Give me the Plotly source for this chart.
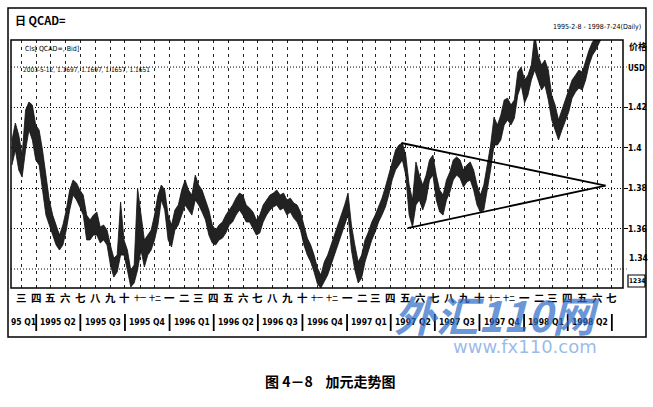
import plotly.graph_objects as go
import pandas as pd

# ---------------- data (weekly high / low of USD/CAD) ----------------
start_week = "1995-02-10"
highs = [1.4039, 1.4123, 1.4063, 1.3964, 1.4187, 1.4227, 1.4212, 1.4113, 1.4088, 1.3989,
         1.3865, 1.3742, 1.3667, 1.3618, 1.3568, 1.3618, 1.3692, 1.3791, 1.3841, 1.3826,
         1.3791, 1.3766, 1.3667, 1.3643, 1.3667, 1.3682, 1.3608, 1.3618, 1.3593, 1.3519,
         1.3454, 1.3469, 1.3732, 1.3544, 1.3494, 1.3395, 1.3420, 1.3801, 1.3667, 1.3544,
         1.3568, 1.3593, 1.3667, 1.3766, 1.3816, 1.3791, 1.3667, 1.3618, 1.3692, 1.3717,
         1.3791, 1.3841, 1.3791, 1.3766, 1.3865, 1.3816, 1.3791, 1.3742, 1.3692, 1.3618,
         1.3593, 1.3618, 1.3633, 1.3667, 1.3692, 1.3717, 1.3751, 1.3776, 1.3766, 1.3717,
         1.3702, 1.3682, 1.3643, 1.3667, 1.3717, 1.3742, 1.3766, 1.3776, 1.3791, 1.3766,
         1.3776, 1.3742, 1.3751, 1.3727, 1.3717, 1.3682, 1.3618, 1.3553, 1.3519, 1.3469,
         1.3405, 1.3370, 1.3435, 1.3469, 1.3519, 1.3568, 1.3618, 1.3667, 1.3717, 1.3776,
         1.3618, 1.3519, 1.3435, 1.3469, 1.3544, 1.3583, 1.3633, 1.3667, 1.3707, 1.3751,
         1.3806, 1.3865, 1.3925, 1.3989, 1.4014, 1.4024, 1.3964, 1.3816, 1.3742, 1.3930,
         1.3865, 1.3816, 1.3865, 1.3940, 1.3964, 1.3865, 1.3791, 1.3766, 1.3841, 1.3880,
         1.3940, 1.3955, 1.3940, 1.3890, 1.3915, 1.3930, 1.3890, 1.3816, 1.3766, 1.3816,
         1.3915, 1.4014, 1.4152, 1.4113, 1.4162, 1.4237, 1.4246, 1.4212, 1.4237, 1.4375,
         1.4400, 1.4336, 1.4360, 1.4410, 1.4560, 1.4459, 1.4410, 1.4435, 1.4385, 1.4261,
         1.4212, 1.4138, 1.4187, 1.4237, 1.4286, 1.4336, 1.4360, 1.4385, 1.4375, 1.4435,
         1.4484, 1.4524, 1.4543, 1.4580, 1.4620, 1.4680, 1.4720, 1.4780, 1.4850, 1.4920,
         1.4980]
lows = [1.3915, 1.3989, 1.3890, 1.3855, 1.3989, 1.4088, 1.4039, 1.3940, 1.3915, 1.3791,
        1.3667, 1.3618, 1.3568, 1.3519, 1.3494, 1.3519, 1.3593, 1.3692, 1.3766, 1.3742,
        1.3707, 1.3667, 1.3544, 1.3544, 1.3568, 1.3568, 1.3529, 1.3544, 1.3519, 1.3420,
        1.3360, 1.3385, 1.3469, 1.3469, 1.3395, 1.3311, 1.3331, 1.3395, 1.3494, 1.3410,
        1.3469, 1.3494, 1.3544, 1.3618, 1.3742, 1.3692, 1.3544, 1.3509, 1.3593, 1.3618,
        1.3667, 1.3717, 1.3692, 1.3667, 1.3742, 1.3717, 1.3682, 1.3643, 1.3568, 1.3529,
        1.3519, 1.3544, 1.3553, 1.3578, 1.3618, 1.3633, 1.3667, 1.3692, 1.3667, 1.3633,
        1.3633, 1.3603, 1.3568, 1.3578, 1.3633, 1.3667, 1.3692, 1.3707, 1.3717, 1.3692,
        1.3702, 1.3667, 1.3682, 1.3652, 1.3633, 1.3593, 1.3519, 1.3469, 1.3435, 1.3385,
        1.3326, 1.3306, 1.3336, 1.3370, 1.3420, 1.3469, 1.3519, 1.3558, 1.3618, 1.3667,
        1.3494, 1.3395, 1.3331, 1.3355, 1.3435, 1.3494, 1.3544, 1.3583, 1.3633, 1.3667,
        1.3707, 1.3766, 1.3841, 1.3890, 1.3915, 1.3940, 1.3865, 1.3667, 1.3608, 1.3717,
        1.3742, 1.3692, 1.3742, 1.3841, 1.3865, 1.3742, 1.3682, 1.3667, 1.3742, 1.3781,
        1.3841, 1.3865, 1.3850, 1.3806, 1.3831, 1.3841, 1.3791, 1.3717, 1.3682, 1.3692,
        1.3791, 1.3890, 1.4014, 1.4014, 1.4039, 1.4113, 1.4138, 1.4113, 1.4147, 1.4261,
        1.4311, 1.4222, 1.4261, 1.4336, 1.4385, 1.4336, 1.4286, 1.4311, 1.4237, 1.4138,
        1.4088, 1.4039, 1.4088, 1.4128, 1.4177, 1.4246, 1.4276, 1.4296, 1.4286, 1.4336,
        1.4410, 1.4459, 1.4484, 1.4520, 1.4550, 1.4590, 1.4630, 1.4680, 1.4740, 1.4800,
        1.4860]

# triangle trend lines (date, price)
upper_line = [("1997-04-23", 1.4024), ("1998-06-18", 1.3813)]
lower_line = [("1997-05-06", 1.3603), ("1998-06-18", 1.3813)]

# axis labels
month_names = ["一", "二", "三", "四", "五", "六", "七", "八", "九", "十", "十一", "十二"]
price_ticks = [1.36, 1.38, 1.40, 1.42]
price_tick_text = ["1.36", "1.38", "1.4", "1.42"]
quarter_labels = ["95 Q1", "1995 Q2", "1995 Q3", "1995 Q4", "1996 Q1", "1996 Q2", "1996 Q3",
                  "1996 Q4", "1997 Q1", "1997 Q2", "1997 Q3", "1997 Q4", "1998 Q1", "1998 Q2"]

x_start, x_end = "1995-02-08", "1998-07-24"
y_min, y_max = 1.3306, 1.4534

# ---------------- figure ----------------
W, H = 653, 407
L, R, T, B = 11, 623, 40, 288     # plot area in pixels


def px(xp):
    return (xp - L) / (R - L)


def py(yp):
    return (B - yp) / (B - T)


dates = pd.date_range(start_week, periods=len(highs), freq="7D")

fig = go.Figure()
fig.add_trace(go.Scatter(x=dates, y=lows, mode="lines", line=dict(color="#111111", width=0.8),
                         hoverinfo="skip", showlegend=False))
fig.add_trace(go.Scatter(x=dates, y=highs, mode="lines", line=dict(color="#111111", width=0.8),
                         fill="tonexty", fillcolor="#222222", hoverinfo="skip", showlegend=False))

# trend lines
for seg in (upper_line, lower_line):
    fig.add_trace(go.Scatter(x=[p[0] for p in seg], y=[p[1] for p in seg], mode="lines",
                             line=dict(color="black", width=1.8), hoverinfo="skip", showlegend=False))

sans_n = "DejaVu Sans Condensed, Liberation Sans Narrow, Arial Narrow, sans-serif"
cjk = "Noto Sans CJK SC, Noto Sans CJK JP, sans-serif"

annotations = []
shapes = []

# month labels (Chinese numerals) centred on the month-start grid lines
months = pd.date_range("1995-03-01", x_end, freq="MS")
for m in months:
    name = month_names[m.month - 1]
    annotations.append(dict(x=m, xref="x", y=py(297), yref="paper", text=name, showarrow=False,
                            font=dict(family=cjk, size=10.5 if len(name) == 1 else 6, color="black",
                                      weight="bold"),
                            borderpad=0, xanchor="center", yanchor="middle"))

# quarter labels and separators
q_starts = pd.date_range("1995-01-01", "1998-07-01", freq="QS")
for i, qs in enumerate(q_starts[:-1]):
    qe = q_starts[i + 1]
    a = max(qs, pd.Timestamp(x_start))
    mid = a + (qe - a) / 2
    annotations.append(dict(x=mid, xref="x", y=py(322), yref="paper", text=quarter_labels[i],
                            showarrow=False, font=dict(family=sans_n, size=8.5, color="black", weight="bold"),
                            borderpad=0, xanchor="center", yanchor="middle"))
for qs in q_starts[1:]:
    shapes.append(dict(type="line", xref="x", yref="paper", x0=qs, x1=qs, y0=py(314), y1=py(331),
                       line=dict(color="black", width=1.8)))

# right price labels
for v, t in zip(price_ticks, price_tick_text):
    annotations.append(dict(x=px(627), y=v, xref="paper", yref="y", text=t, showarrow=False,
                            xanchor="left", yanchor="middle", borderpad=0,
                            font=dict(family=sans_n, size=8.5, color="black", weight="bold")))

# header texts
annotations += [
    dict(x=px(13), y=py(20), xref="paper", yref="paper", text="日 QCAD=", showarrow=False,
         xanchor="left", yanchor="middle", font=dict(family=cjk, size=11, color="black", weight="bold")),
    dict(x=px(643), y=py(27), xref="paper", yref="paper", text="1995-2-8 - 1998-7-24(Daily)",
         showarrow=False, xanchor="right", yanchor="middle",
         font=dict(family=sans_n, size=7, color="black")),
    dict(x=px(23), y=py(49), xref="paper", yref="paper", text="Cls[ QCAD=, Bid]", showarrow=False,
         xanchor="left", yanchor="middle", font=dict(family=sans_n, size=7, color="black")),
    dict(x=px(21), y=py(70), xref="paper", yref="paper",
         text="2003-5-12, 1.1697, 1.1697, 1.1657, 1.1651", showarrow=False,
         xanchor="left", yanchor="middle", font=dict(family=sans_n, size=6.5, color="black")),
    dict(x=px(627), y=py(47), xref="paper", yref="paper", text="价格", showarrow=False,
         xanchor="left", yanchor="middle", font=dict(family=cjk, size=9, color="black", weight="bold")),
    dict(x=px(626), y=py(68), xref="paper", yref="paper", text="USD", showarrow=False,
         xanchor="left", yanchor="middle", font=dict(family=sans_n, size=8, color="black", weight="bold")),
    dict(x=px(627), y=py(258), xref="paper", yref="paper", text="1.34", showarrow=False,
         xanchor="left", yanchor="middle", font=dict(family=sans_n, size=8.5, color="black", weight="bold")),
    dict(x=px(636.5), y=py(281), xref="paper", yref="paper", text="1234", showarrow=False,
         xanchor="center", yanchor="middle", borderpad=0,
         font=dict(family=sans_n, size=6.5, color="black", weight="bold")),
    # watermark
    dict(x=px(497), y=py(313), xref="paper", yref="paper", text="<i>外汇110网</i>", showarrow=False,
         xanchor="center", yanchor="middle",
         font=dict(family=cjk, size=42, color="rgba(50,110,200,0.72)", weight="bold")),
    dict(x=px(525), y=py(346), xref="paper", yref="paper", text="www.fx110.com", showarrow=False,
         xanchor="center", yanchor="middle",
         font=dict(family="DejaVu Sans, sans-serif", size=18, color="rgba(120,165,225,0.75)")),
    # caption
    dict(x=px(330), y=py(381), xref="paper", yref="paper", text="图 4－8    加元走势图", showarrow=False,
         xanchor="center", yanchor="middle", font=dict(family=cjk, size=14, color="black", weight="bold")),
]

# frames and extra unlabelled grid lines
shapes += [
    dict(type="rect", xref="paper", yref="paper", x0=px(8), x1=px(646), y0=py(337), y1=py(8),
         line=dict(color="black", width=1.5), layer="above"),
    dict(type="rect", xref="paper", yref="paper", x0=0, x1=1, y0=0, y1=1,
         line=dict(color="black", width=1.5), layer="above"),
    dict(type="rect", xref="paper", yref="paper", x0=px(628), x1=px(645), y0=py(287), y1=py(275),
         line=dict(color="black", width=1.2)),
]
for lvl in (1.34, 1.44):
    shapes.append(dict(type="line", xref="paper", yref="y", x0=0, x1=1.006, y0=lvl, y1=lvl,
                       line=dict(color="black", width=1, dash="1px,2px"), layer="below"))

fig.update_layout(
    width=W, height=H, autosize=False,
    margin=dict(l=L, r=W - R, t=T, b=H - B, pad=0),
    paper_bgcolor="white", plot_bgcolor="white",
    showlegend=False,
    annotations=annotations, shapes=shapes,
    xaxis=dict(type="date", range=[x_start, x_end], showticklabels=False, ticks="",
               showgrid=True, gridcolor="#222222", gridwidth=1, griddash="3px,4px",
               tick0="1995-03-01", dtick="M1", zeroline=False, showline=False, fixedrange=True),
    yaxis=dict(range=[y_min, y_max], side="right", tickmode="array", tickvals=price_ticks,
               showticklabels=False, ticks="outside", ticklen=4, tickcolor="black",
               showgrid=True, gridcolor="black", gridwidth=1, griddash="1px,2px",
               zeroline=False, showline=False, fixedrange=True),
)

fig.write_html("out.html", config={"displayModeBar": False},
               post_script="document.body.style.margin='0';document.body.style.padding='0';"
                           "document.documentElement.style.overflow='hidden';")
